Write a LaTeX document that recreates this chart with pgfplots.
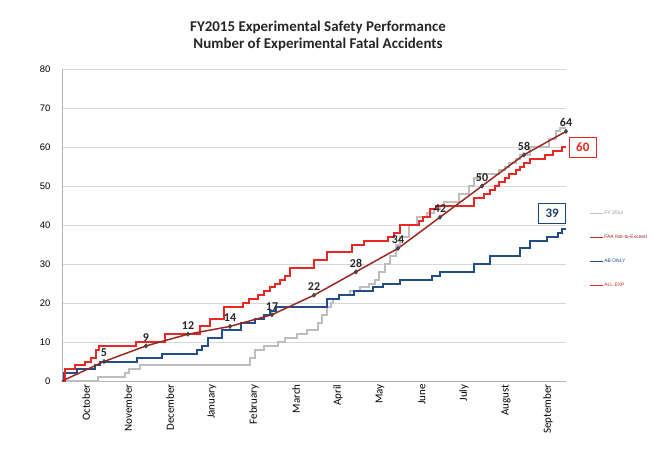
\documentclass[border=0pt]{standalone}
\usepackage{pgfplots}
\pgfplotsset{compat=1.18}
\usepackage{fontspec}
\setmainfont{Carlito}
\newfontfamily\arialf{Liberation Sans}
\definecolor{allexp}{RGB}{232,40,36}
\definecolor{trend}{RGB}{155,40,35}
\definecolor{faaleg}{RGB}{200,40,36}
\definecolor{abonly}{RGB}{36,76,136}
\definecolor{fyfour}{RGB}{190,190,190}
\definecolor{gridc}{RGB}{215,215,215}
\begin{document}
\begin{tikzpicture}
\useasboundingbox (0,0) rectangle (655bp,-451bp);
\fill[white] (0,0) rectangle (655bp,-451bp);
\node[align=center, font=\fontsize{15}{17.5}\selectfont\bfseries, text=black!85] at (318bp,-36bp)
  {FY2015 Experimental Safety Performance\\Number of Experimental Fatal Accidents};
\begin{axis}[
  at={(62bp,-381bp)}, anchor=south west,
  scale only axis, width=504bp, height=312bp,
  xmin=0, xmax=12, ymin=0, ymax=80,
  axis lines*=left,
  axis line style={draw=gray!60, line width=0.8pt, -},
  ytick={0,10,...,80},
  ymajorgrids, grid style={gridc, line width=0.8pt},
  major tick length=0pt,
  xtick={0.5,1.5,...,11.5},
  xticklabels={October,November,December,January,February,March,April,May,June,July,August,September},
  x tick label style={rotate=90, anchor=east, font=\fontsize{11}{12}\selectfont, yshift=-3bp},
  y tick label style={font=\arialf\fontsize{9.5}{11}\selectfont, xshift=-8bp},
  /pgf/number format/assume math mode=true,
  clip=false,
  legend style={at={(axis cs:12.55,43.8)}, anchor=north west, draw=none, fill=none,
    font=\arialf\fontsize{5}{6}\selectfont, row sep=17bp, inner sep=0pt,
    nodes={inner sep=1pt}},
  legend cell align=left,
  legend image code/.code={\draw[#1, line width=1pt] (0bp,0bp) -- (13bp,0bp);},
]
\addlegendimage{fyfour}
\addlegendentry{\textcolor{fyfour!80!black}{FY 2014}}
\addlegendimage{faaleg}
\addlegendentry{\textcolor{trend}{FAA Not-to-Exceed}}
\addlegendimage{abonly}
\addlegendentry{\textcolor{abonly}{AB ONLY}}
\addlegendimage{allexp}
\addlegendentry{\textcolor{allexp}{ALL EXP}}

% FY 2014
\addplot[const plot, fyfour, line width=2pt, forget plot] coordinates {
(0,0)(0.86,1)(1.5,2)(1.6,3)(1.86,4)(4.48,6)(4.6,8)(4.8,9)(5.15,10)(5.3,11)(5.6,12)(5.83,13)
(6.1,15)(6.2,17)(6.3,19)(6.4,20)(6.45,21)(6.6,22)(6.85,23)(7.1,24)(7.3,25)(7.45,26)(7.55,28)
(7.7,30)(7.8,32)(7.95,35)(8.05,37)(8.25,40)(8.45,42)(8.7,43)(8.85,44)(9.0,45)(9.1,46)(9.45,48)
(9.7,50)(9.8,52)(9.95,53)(10.4,54)(10.55,55)(10.65,56)(10.8,57)(10.9,58)(11.15,60)(11.6,62)
(11.75,64)(11.85,65)(12.0,65)};
% AB ONLY
\addplot[const plot, abonly, line width=2pt, forget plot] coordinates {
(0,0)(0.05,2)(0.36,3)(0.79,4)(0.9,5)(1.79,6)(2.38,7)(3.21,8)(3.33,9)(3.48,11)(3.81,13)(4.26,15)
(4.6,16)(4.8,17)(4.95,18)(5.1,19)(6.3,21)(6.6,22)(6.95,23)(7.4,24)(7.65,25)(8.05,26)(8.8,27)
(9.0,28)(9.8,30)(10.2,32)(10.9,34)(11.15,36)(11.55,37)(11.8,38)(11.9,39)(12.0,39)};
% ALL EXP
\addplot[const plot, allexp, line width=2pt, forget plot] coordinates {
(0,0)(0.07,3)(0.3,4)(0.55,5)(0.7,6)(0.8,8)(0.88,9)(1.76,10)(2.45,12)(3.29,14)(3.52,16)(3.86,19)
(4.3,20)(4.45,21)(4.67,22)(4.8,23)(4.95,24)(5.07,25)(5.2,26)(5.3,27)(5.43,29)(6.0,31)(6.3,33)
(6.9,35)(7.2,36)(7.75,37)(7.9,38)(8.05,40)(8.5,41)(8.6,42)(8.75,44)(8.9,45)(9.8,47)(10.05,48)
(10.2,49)(10.3,50)(10.4,51)(10.55,52)(10.65,53)(10.8,54)(10.9,55)(11.0,56)(11.15,57)(11.5,58)
(11.7,59)(11.9,60)(12.0,60)};
% FAA Not-to-Exceed
\addplot[trend, line width=1.5pt, forget plot] coordinates {
(0,0)(1,5)(2,9)(3,12)(4,14)(5,17)(6,22)(7,28)(8,34)(9,42)(10,50)(11,58)(12,64)};
\addplot[only marks, mark=diamond*, mark size=2.2bp, mark options={fill=black!70, draw=black!80},
  forget plot, nodes near coords,
  every node near coord/.append style={font=\fontsize{12}{13}\selectfont\bfseries, text=black!85, anchor=south, yshift=1bp}]
  coordinates {(1,5)(2,9)(3,12)(4,14)(5,17)(6,22)(7,28)(8,34)(9,42)(10,50)(11,58)(12,64)};

\node[draw=allexp, line width=0.8pt, text=allexp, font=\fontsize{13}{15}\selectfont\bfseries,
  minimum width=27bp, minimum height=20bp, inner sep=1pt, fill=white] at (axis cs:12.4,60) {60};
\node[draw=abonly!90!black, line width=0.8pt, text=abonly!80!black, font=\fontsize{13}{15}\selectfont\bfseries,
  minimum width=27bp, minimum height=20bp, inner sep=1pt, fill=white] at (axis cs:11.67,43.1) {39};
\end{axis}
\end{tikzpicture}
\end{document}
